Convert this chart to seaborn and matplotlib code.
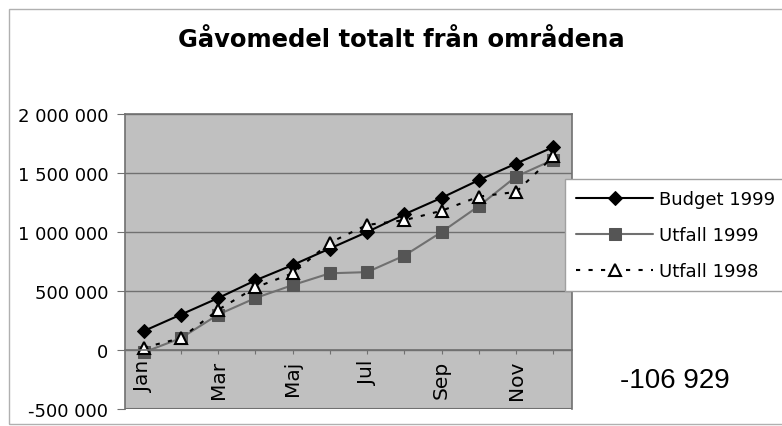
import numpy as np
import pandas as pd
import matplotlib.pyplot as plt
import matplotlib.patches as patches
import seaborn as sns

months = ['Jan', 'Feb', 'Mar', 'Apr', 'Maj', 'Jun', 'Jul', 'Aug', 'Sep', 'Okt', 'Nov', 'Dec']
budget_1999 = [160000, 300000, 440000, 590000, 720000, 860000, 1000000, 1150000, 1290000, 1440000, 1580000, 1720000]
utfall_1999 = [-20000, 100000, 300000, 440000, 550000, 650000, 660000, 800000, 1000000, 1220000, 1470000, 1613000]
utfall_1998 = [20000, 100000, 340000, 530000, 650000, 910000, 1060000, 1100000, 1180000, 1300000, 1340000, 1640000]
yticks = [-500000, 0, 500000, 1000000, 1500000, 2000000]
ytick_labels = ['-500 000', '0', '500 000', '1 000 000', '1 500 000', '2 000 000']

sns.set_style('white')
plt.rcParams['font.family'] = ['DejaVu Sans']
plt.rcParams['text.color'] = 'black'
plt.rcParams['xtick.color'] = 'black'
plt.rcParams['ytick.color'] = 'black'

fig = plt.figure(figsize=(7.82, 4.27), dpi=100)
ax = fig.add_axes([125 / 782, 1 - 410 / 427, (572 - 125) / 782, (410 - 115) / 427])
ax.set_facecolor('#c0c0c0')

x = np.arange(len(months))
sns.lineplot(x=x, y=budget_1999, ax=ax, color='black', lw=1.5, marker='D', markersize=7,
             markerfacecolor='black', markeredgecolor='black', label='Budget 1999')
sns.lineplot(x=x, y=utfall_1999, ax=ax, color='#707070', lw=1.5, marker='s', markersize=8,
             markerfacecolor='#555555', markeredgecolor='#555555', label='Utfall 1999')
sns.lineplot(x=x, y=utfall_1998, ax=ax, color='black', lw=1.5, linestyle=(0, (2, 4)), marker='^',
             markersize=9, markerfacecolor='white', markeredgecolor='black', markeredgewidth=1.5,
             label='Utfall 1998')

ax.set_xlim(-0.5, 11.5)
ax.set_ylim(-500000, 2000000)
ax.set_yticks(yticks)
ax.set_yticklabels(ytick_labels, fontsize=13)
ax.yaxis.grid(True, color='#707070', lw=1)
ax.set_axisbelow(True)

ax.spines['bottom'].set_position(('data', 0))
for s in ax.spines.values():
    s.set_color('#707070')
    s.set_linewidth(1.2)
ax.set_xticks(x)
ax.set_xticklabels([m if i % 2 == 0 else '' for i, m in enumerate(months)], rotation=90, fontsize=14.5)
ax.tick_params(axis='x', length=3, color='#707070', pad=4, bottom=True)
ax.tick_params(axis='y', length=6, color='#707070', left=True, pad=6)
# bottom frame line of plot area
ax.axhline(-500000, color='#707070', lw=1.5)

leg = ax.legend(loc='upper left', bbox_to_anchor=(565 / 782, 1 - 180 / 427), bbox_transform=fig.transFigure,
                fontsize=13, frameon=True, fancybox=False, edgecolor='#a0a0a0', framealpha=1,
                handlelength=4.3, labelspacing=1.0, borderaxespad=0, borderpad=0.6, handletextpad=0.3)

fig.text(401 / 782, 1 - 40 / 427, 'Gåvomedel totalt från områdena', ha='center', va='center',
         fontsize=17.5, fontweight='bold')
fig.text(675 / 782, 1 - 381 / 427, '-106 929', ha='center', va='center', fontsize=20,
         family='Liberation Sans')

fig.patches.append(patches.Rectangle((9 / 782, 1 - 425 / 427), 1, 415 / 427, transform=fig.transFigure,
                                     fill=False, edgecolor='#b0b0b0', lw=1))

fig.savefig('out.png', dpi=100)
